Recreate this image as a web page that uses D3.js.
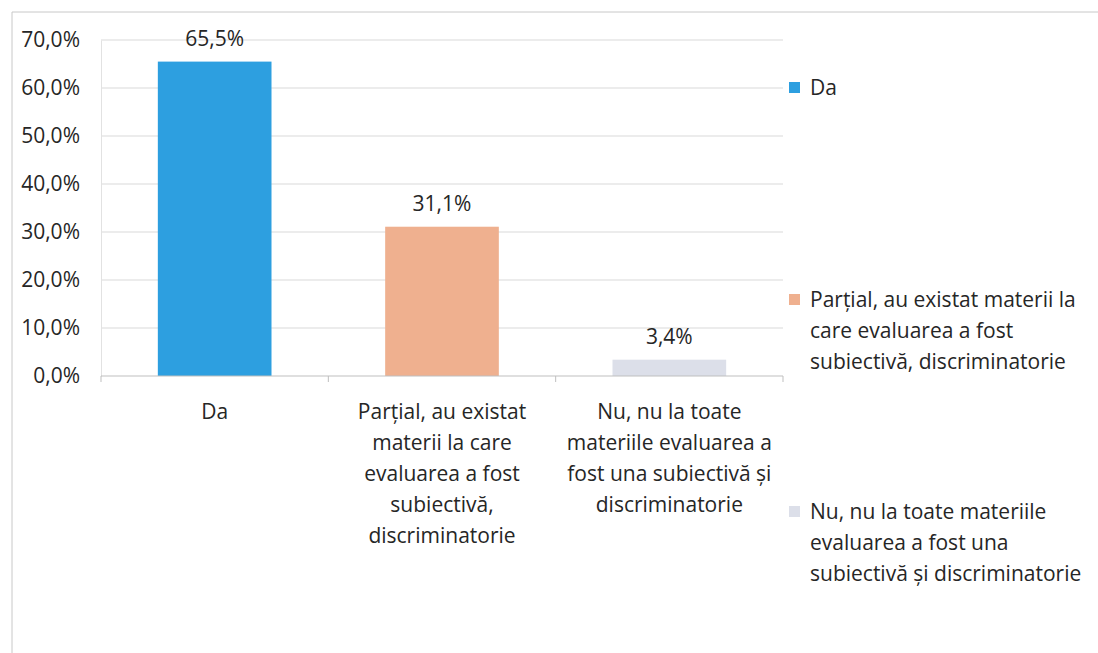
<!DOCTYPE html>
<html>
<head>
<meta charset="utf-8">
<script src="https://cdn.jsdelivr.net/npm/d3@7"></script>
<style>
  body { margin: 0; background: #fff; }
  svg { font-family: "Open Sans", Lato, sans-serif; }
</style>
</head>
<body>
<div id="chart"></div>
<script>
// data
const categories = ['Da',
  'Parțial, au existat materii la care evaluarea a fost subiectivă, discriminatorie',
  'Nu, nu la toate materiile evaluarea a fost una subiectivă și discriminatorie'];
const values = [65.5, 31.1, 3.4];
const valueLabels = ['65,5%', '31,1%', '3,4%'];
const axisLines = [['Da'],
  ['Parțial, au existat', 'materii la care', 'evaluarea a fost', 'subiectivă,', 'discriminatorie'],
  ['Nu, nu la toate', 'materiile evaluarea a', 'fost una subiectivă și', 'discriminatorie']];
const legendLines = [['Da'],
  ['Parțial, au existat materii la', 'care evaluarea a fost', 'subiectivă, discriminatorie'],
  ['Nu, nu la toate materiile', 'evaluarea a fost una', 'subiectivă și discriminatorie']];
const colors = ['#2d9fe0', '#efb08f', '#dcdfe9'];
const yTicks = [0, 10, 20, 30, 40, 50, 60, 70];

const width = 1098, height = 653;
const margin = {top: 40, left: 101, right: 315, bottom: 277};
const plotW = width - margin.left - margin.right;
const plotH = height - margin.top - margin.bottom;
const fontSize = 21;
const textColor = '#262626';

const svg = d3.select('#chart').append('svg')
  .attr('width', width).attr('height', height);

// frame edge
svg.append('path')
  .attr('d', `M12,${height} V12 H${width}`)
  .attr('fill', 'none').attr('stroke', '#c8c8c8').attr('stroke-width', 1);

const chart = svg.append('g')
  .attr('transform', `translate(${margin.left},${margin.top})`);

const x = d3.scaleBand(categories, [0, plotW]).paddingInner(0.5).paddingOuter(0.25);
const y = d3.scaleLinear([0, 70], [plotH, 0]);

// gridlines
chart.append('g').selectAll('line').data(yTicks.slice(1)).join('line')
  .attr('x1', 0).attr('x2', plotW)
  .attr('y1', d => y(d)).attr('y2', d => y(d))
  .attr('stroke', '#d9d9d9');

// y axis labels
const axisY = chart.append('g')
  .call(d3.axisLeft(y).tickValues(yTicks).tickSize(0).tickPadding(21)
    .tickFormat(d => d3.format('.1f')(d).replace('.', ',') + '%'));
axisY.select('.domain').attr('stroke', '#e2e2e2');
axisY.selectAll('text').attr('font-size', fontSize).attr('fill', textColor)
  .attr('font-family', '"Open Sans", sans-serif');

// bars
chart.append('g').selectAll('rect').data(values).join('rect')
  .attr('x', (d, i) => x(categories[i]))
  .attr('y', d => y(d))
  .attr('width', x.bandwidth())
  .attr('height', d => plotH - y(d))
  .attr('fill', (d, i) => colors[i]);

// value labels
chart.append('g').selectAll('text').data(values).join('text')
  .attr('x', (d, i) => x(categories[i]) + x.bandwidth() / 2)
  .attr('y', d => y(d) - 16)
  .attr('text-anchor', 'middle')
  .attr('font-size', fontSize).attr('fill', textColor)
  .text((d, i) => valueLabels[i]);

// x axis
chart.append('line')
  .attr('x1', 0).attr('x2', plotW).attr('y1', plotH).attr('y2', plotH)
  .attr('stroke', '#bfbfbf');
const tickX = i => i === 0 ? 0 : i === categories.length ? plotW
  : x(categories[i]) - x.step() * x.paddingInner() / 2;
chart.append('g').selectAll('line').data(d3.range(categories.length + 1)).join('line')
  .attr('x1', tickX).attr('x2', tickX)
  .attr('y1', plotH).attr('y2', plotH + 6)
  .attr('stroke', '#bfbfbf');

const catText = chart.append('g').selectAll('text').data(axisLines).join('text')
  .attr('text-anchor', 'middle')
  .attr('font-size', fontSize).attr('fill', textColor)
  .attr('transform', (d, i) => `translate(${x(categories[i]) + x.bandwidth() / 2},${plotH + 43})`);
catText.selectAll('tspan').data(d => d).join('tspan')
  .attr('x', 0).attr('dy', (d, i) => i === 0 ? 0 : 31)
  .text(d => d);

// legend
const legendY = [95, 307, 519];
const legend = svg.append('g').selectAll('g').data(legendLines).join('g')
  .attr('transform', (d, i) => `translate(789,${legendY[i]})`);
legend.append('rect')
  .attr('x', 0).attr('y', -13).attr('width', 11).attr('height', 11)
  .attr('fill', (d, i) => colors[i]);
legend.append('text')
  .attr('font-size', fontSize).attr('fill', textColor)
  .selectAll('tspan').data(d => d).join('tspan')
  .attr('x', 21).attr('dy', (d, i) => i === 0 ? 0 : 31)
  .text(d => d);
</script>
</body>
</html>
